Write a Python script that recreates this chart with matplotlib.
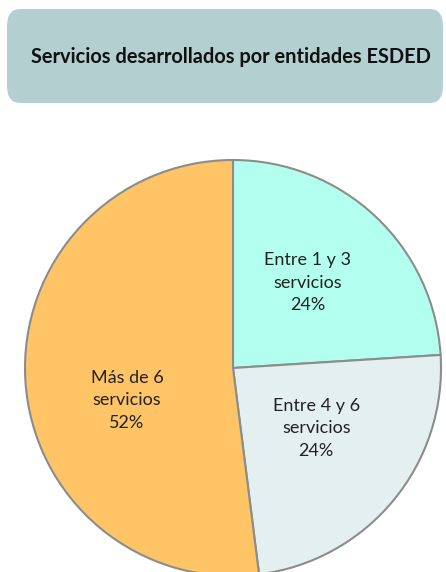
import matplotlib.pyplot as plt
from matplotlib.patches import FancyBboxPatch

# datos
categorias = ['Entre 1 y 3\nservicios', 'Entre 4 y 6\nservicios', 'Más de 6\nservicios']
valores = [24, 24, 52]
colores = ['#B3FFEF', '#E4F0F0', '#FFC466']
titulo = 'Servicios desarrollados por entidades ESDED'

plt.rcParams['font.family'] = ['Lato', 'DejaVu Sans']

fig = plt.figure(figsize=(4.46, 5.72), dpi=100)

# caja del título
caja = FancyBboxPatch((7 / 446, 1 - 103 / 572), 436 / 446, 94 / 572,
                      boxstyle='round,pad=0,rounding_size=0.03',
                      transform=fig.transFigure, facecolor='#B3CFCF',
                      edgecolor='none')
fig.patches.append(caja)
fig.text(231 / 446, 1 - 57 / 572, titulo, ha='center', va='center',
         fontsize=14.4, fontweight='bold', color='#111111')

# gráfico de pastel
ax = fig.add_axes([25 / 446, -4 / 572, 416 / 446, 416 / 572])
etiquetas = [f'{c}\n{v}%' for c, v in zip(categorias, valores)]
wedges, texts = ax.pie(valores, labels=etiquetas, colors=colores,
                       startangle=90, counterclock=False, labeldistance=0.53,
                       wedgeprops=dict(edgecolor='#8C8C8C', linewidth=1.5),
                       textprops=dict(fontsize=13, color='#222222',
                                      ha='center', va='center',
                                      linespacing=1.5))
for t in texts:
    t.set_ha('center')
# ajuste de posiciones de etiquetas
texts[0].set_position((0.36, 0.41))
texts[1].set_position((0.40, -0.29))
texts[2].set_position((-0.51, -0.155))
ax.set_xlim(-1, 1)
ax.set_ylim(-1, 1)
ax.set_aspect('auto')

fig.savefig('out.png', dpi=100)
